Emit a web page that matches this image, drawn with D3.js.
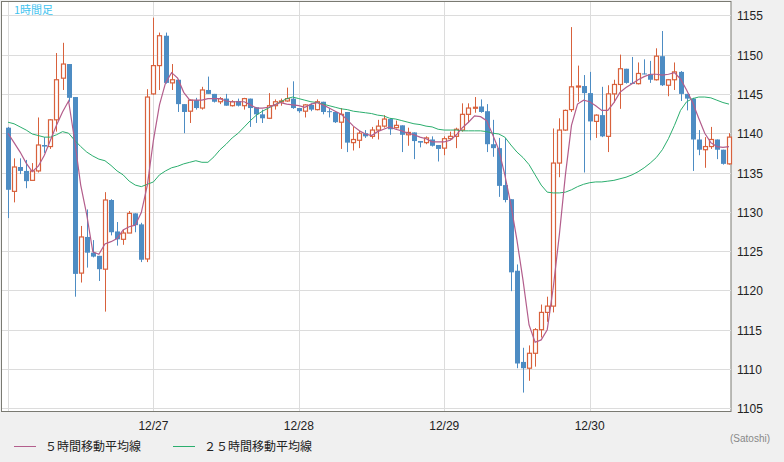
<!DOCTYPE html>
<html>
<head>
<meta charset="utf-8">
<script src="https://cdn.jsdelivr.net/npm/d3@7"></script>
<style>
  body { margin: 0; background: #f0f0f0; }
  svg { display: block; font-family: "Liberation Sans", "DejaVu Sans", sans-serif; }
</style>
</head>
<body>
<svg id="chart" width="784" height="462"></svg>
<script>
// hourly candles, 12/26 00:00 .. 12/30 23:00
var opens = [1140.7,1132.6,1135.7,1135.2,1134.0,1135.2,1138.5,1138.3,1141.7,1147.0,1148.8,1144.6,1122.2,1126.8,1124.8,1124.4,1122.7,1131.5,1127.5,1126.5,1127.3,1129.8,1128.4,1124.0,
  1145.0,1148.6,1152.4,1146.4,1146.8,1143.7,1142.8,1144.2,1143.2,1145.5,1145.0,1144.0,1144.4,1143.5,1144.1,1143.5,1144.4,1143.3,1142.4,1141.9,1143.5,1144.0,1144.1,1144.4,
  1143.2,1142.8,1143.6,1143.0,1144.0,1142.8,1142.7,1141.4,1142.7,1138.8,1139.1,1140.0,1139.6,1140.4,1140.9,1141.8,1140.7,1141.0,1139.8,1140.1,1139.0,1138.8,1139.2,1138.5,
  1138.1,1139.3,1139.6,1140.4,1142.4,1143.2,1143.4,1142.8,1138.6,1138.1,1133.4,1131.6,1122.5,1110.9,1110.1,1112.0,1115.0,1117.2,1118.0,1136.2,1140.4,1143.0,1145.9,
  1146.0,1145.1,1141.5,1142.3,1139.6,1145.0,1146.2,1148.2,1146.4,1146.3,1147.6,1147.5,1146.8,1149.8,1146.1,1146.8,1147.8,1145.0,1144.4,1139.2,1137.9,1138.3,1139.2,1137.9,1136.1];
var closes = [1132.8,1135.7,1135.2,1133.9,1135.2,1138.5,1138.3,1141.7,1146.8,1148.8,1144.5,1122.1,1126.8,1124.8,1124.3,1122.7,1131.5,1127.4,1126.5,1127.3,1129.8,1128.3,1123.9,1144.6,
  1148.6,1152.4,1146.4,1146.8,1143.7,1142.7,1144.2,1143.2,1145.5,1145.0,1144.0,1144.4,1143.5,1144.0,1143.5,1144.4,1143.2,1142.4,1141.9,1143.5,1144.0,1144.1,1144.4,1143.2,
  1142.8,1143.6,1143.0,1144.0,1142.7,1142.7,1141.4,1142.4,1138.8,1139.2,1140.0,1139.6,1140.4,1140.9,1141.8,1140.5,1141.0,1139.8,1140.1,1139.0,1138.8,1139.4,1138.4,1138.0,
  1139.3,1139.6,1140.5,1142.4,1143.2,1143.3,1142.7,1138.6,1138.1,1133.3,1131.5,1122.3,1110.7,1110.1,1112.0,1115.0,1117.2,1118.0,1136.2,1140.4,1142.9,1145.9,1146.0,
  1145.1,1141.5,1142.3,1139.6,1145.0,1146.2,1148.2,1146.4,1146.3,1147.6,1147.5,1146.8,1149.8,1146.1,1146.8,1147.8,1145.0,1144.4,1139.2,1137.9,1138.3,1139.2,1137.9,1136.1,1139.5];
var highs = [1140.8,1136.8,1136.8,1136.6,1136.2,1142.0,1139.5,1141.8,1150.2,1151.5,1148.8,1144.6,1128.2,1130.3,1126.4,1124.4,1132.5,1131.6,1128.7,1127.7,1130.1,1129.8,1128.6,1145.6,
  1154.7,1152.8,1152.8,1148.8,1146.8,1143.7,1144.3,1144.5,1145.9,1147.2,1145.0,1144.6,1145.0,1144.2,1144.4,1144.5,1144.4,1143.3,1143.0,1145.1,1144.3,1144.4,1145.8,1146.6,
  1143.2,1143.7,1143.8,1144.3,1144.0,1143.2,1142.7,1143.2,1142.7,1140.8,1140.3,1140.4,1140.8,1141.7,1142.3,1141.9,1141.6,1141.0,1140.7,1140.1,1139.0,1139.6,1139.6,1138.5,
  1139.6,1140.2,1140.7,1143.8,1143.8,1144.6,1144.3,1143.7,1141.7,1139.4,1139.4,1131.6,1123.3,1112.7,1113.0,1115.2,1118.2,1119.2,1140.6,1141.9,1143.0,1153.5,1148.6,
  1147.4,1147.8,1142.4,1145.9,1146.1,1146.8,1150.0,1148.2,1149.7,1149.0,1149.4,1149.2,1150.8,1153.0,1146.9,1149.0,1147.9,1145.0,1144.5,1140.4,1139.5,1140.8,1139.2,1137.9,1140.0];
var lows = [1129.2,1131.2,1134.8,1133.0,1134.0,1135.0,1137.5,1138.0,1140.2,1145.5,1144.0,1119.2,1121.0,1122.9,1124.2,1121.2,1117.3,1127.0,1125.7,1125.8,1127.3,1127.4,1123.6,1123.6,
  1144.9,1145.5,1146.3,1145.5,1142.7,1140.0,1141.3,1143.0,1143.0,1145.0,1143.9,1143.7,1143.5,1143.4,1143.4,1143.0,1140.8,1141.3,1141.3,1141.8,1143.0,1143.5,1144.0,1143.1,
  1142.6,1142.0,1142.8,1142.9,1142.4,1142.0,1141.3,1138.0,1137.6,1137.8,1138.1,1139.4,1139.3,1139.2,1140.7,1139.8,1140.6,1137.6,1138.4,1136.7,1138.2,1138.6,1138.3,1136.4,
  1137.2,1139.2,1138.1,1140.2,1141.3,1142.6,1142.6,1137.6,1137.0,1131.9,1131.2,1119.9,1110.1,1107.0,1108.5,1110.3,1114.0,1116.0,1117.2,1134.4,1140.3,1142.7,1144.0,
  1135.0,1139.1,1139.4,1139.5,1137.6,1143.9,1143.1,1146.3,1146.3,1146.2,1147.5,1146.4,1146.7,1146.0,1144.7,1145.5,1144.1,1142.9,1135.2,1137.2,1135.6,1138.0,1136.7,1136.0,1136.0];
var ma5 = [1140.0,1138.8,1137.6,1136.2,1135.1,1135.8,1137.2,1139.1,1141.0,1142.7,1144.1,1139.1,1133.4,1129.6,1124.9,1124.6,1125.9,1126.2,1126.6,1127.7,1128.1,1128.3,1129.9,1133.4,
  1139.1,1143.6,1146.4,1147.7,1147.0,1145.2,1144.2,1144.2,1144.2,1144.4,1144.4,1144.4,1144.1,1144.0,1144.0,1144.0,1143.6,1143.2,1143.2,1143.3,1143.6,1143.9,1143.7,1143.6,
  1143.5,1143.3,1143.7,1143.9,1143.6,1143.2,1142.8,1142.4,1141.7,1140.9,1140.3,1139.9,1139.7,1140.2,1140.5,1140.8,1140.5,1140.3,1140.0,1139.8,1139.5,1139.3,1138.9,1138.9,
  1138.9,1139.1,1139.8,1140.7,1141.4,1142.2,1142.1,1141.6,1139.8,1137.9,1134.7,1130.9,1126.4,1121.3,1115.6,1113.4,1113.7,1115.0,1120.4,1127.1,1134.7,1141.0,1143.7,
  1144.2,1144.0,1143.5,1142.9,1142.9,1143.9,1145.2,1145.8,1146.3,1146.8,1147.2,1147.5,1147.5,1147.4,1147.5,1147.7,1146.9,1145.5,1143.9,1141.9,1140.0,1138.8,1138.3,1138.2,1138.3];
var ma25 = [1141.4,1141.2,1140.8,1140.4,1139.9,1139.7,1139.5,1139.5,1139.8,1140.2,1140.0,1139.1,1138.3,1137.6,1137.1,1136.7,1136.5,1135.9,1135.2,1134.7,1133.9,1133.4,1133.2,1133.5,
  1133.8,1134.7,1135.2,1135.6,1135.8,1136.1,1136.3,1136.5,1136.3,1136.3,1137.0,1137.9,1138.6,1139.4,1140.0,1140.8,1141.6,1142.3,1142.8,1143.2,1143.6,1144.0,1144.4,1144.6,
  1144.4,1144.2,1144.0,1143.9,1143.7,1143.5,1143.3,1143.1,1143.0,1142.8,1142.7,1142.6,1142.5,1142.3,1142.2,1141.9,1141.8,1141.6,1141.4,1141.2,1141.1,1140.9,1140.8,1140.5,
  1140.4,1140.4,1140.4,1140.3,1140.3,1140.3,1140.3,1140.2,1140.0,1139.9,1139.5,1138.5,1137.6,1136.9,1136.0,1134.7,1133.4,1132.5,1132.4,1132.4,1132.5,1132.8,1133.2,
  1133.5,1133.7,1133.8,1133.8,1133.9,1134.0,1134.2,1134.4,1134.7,1135.1,1135.6,1136.2,1136.9,1137.9,1139.3,1141.0,1142.9,1144.0,1144.4,1144.6,1144.6,1144.5,1144.2,1143.9,1143.7];
var dateLabels = ['12/27','12/28','12/29','12/30'];
var dateIdx = [24, 48, 72, 96];
var yTicks = [1105,1110,1115,1120,1125,1130,1135,1140,1145,1150,1155];

var svg = d3.select('#chart');
var up = '#d8613c', down = '#4d8cc3';

var x = d3.scaleLinear().domain([0, opens.length - 1]).range([8, 729]);
var y = d3.scaleLinear().domain([1105, 1155]).range([408.3, 15.3]);

// plot area
svg.append('rect')
  .attr('x', 1.5).attr('y', 1.5).attr('width', 729.5).attr('height', 410)
  .style('fill', '#fff').style('stroke', '#7a7a72').style('stroke-width', 1);

// grid
svg.append('g').selectAll('line').data(yTicks).enter().append('line')
  .attr('x1', 2).attr('x2', 731)
  .attr('y1', function(d){ return Math.round(y(d)) + 0.5; })
  .attr('y2', function(d){ return Math.round(y(d)) + 0.5; })
  .style('stroke', '#dcdcdc');
svg.append('g').selectAll('line').data([0].concat(dateIdx)).enter().append('line')
  .attr('x1', function(d){ return Math.round(x(d)) + 0.5; })
  .attr('x2', function(d){ return Math.round(x(d)) + 0.5; })
  .attr('y1', 2).attr('y2', 411)
  .style('stroke', '#dcdcdc');

// candles
var candles = svg.append('g').selectAll('g').data(opens).enter().append('g');
candles.append('line')
  .attr('x1', function(d, i){ return Math.round(x(i)) + 0.5; })
  .attr('x2', function(d, i){ return Math.round(x(i)) + 0.5; })
  .attr('y1', function(d, i){ return y(highs[i]); })
  .attr('y2', function(d, i){ return y(lows[i]); })
  .style('stroke', function(d, i){ return closes[i] >= d ? up : down; });
candles.append('rect')
  .attr('x', function(d, i){ return Math.round(x(i)) - 2 + (closes[i] >= d ? 0.5 : 0); })
  .attr('width', function(d, i){ return closes[i] >= d ? 4 : 5; })
  .attr('y', function(d, i){ return y(Math.max(d, closes[i])); })
  .attr('height', function(d, i){ return Math.max(1, Math.abs(y(d) - y(closes[i]))); })
  .style('fill', function(d, i){ return closes[i] >= d ? '#fff' : down; })
  .style('stroke', function(d, i){ return closes[i] >= d ? up : 'none'; })
  .style('stroke-width', 1.2);

// moving averages
var line = d3.line().x(function(d, i){ return x(i); }).y(function(d){ return y(d); });
svg.append('path').datum(ma25).attr('d', line)
  .style('fill', 'none').style('stroke', '#2bae6e').style('stroke-width', 1);
svg.append('path').datum(ma5).attr('d', line)
  .style('fill', 'none').style('stroke', '#b35e8c').style('stroke-width', 1.2);

// title
svg.append('text').attr('x', 14).attr('y', 14)
  .style('font-family', '"Noto Sans CJK JP", sans-serif').style('font-size', '11px')
  .style('fill', '#3fc3ef').text('1時間足');

// y axis labels
svg.append('g').selectAll('text').data(yTicks).enter().append('text')
  .attr('x', 737).attr('y', function(d){ return y(d) + 5; })
  .style('font-size', '12px').style('fill', '#222').text(function(d){ return d; });

// date labels
svg.append('g').selectAll('text').data(dateIdx).enter().append('text')
  .attr('x', function(d){ return x(d); }).attr('y', 430)
  .attr('text-anchor', 'middle')
  .style('font-size', '12px').style('fill', '#222')
  .text(function(d, i){ return dateLabels[i]; });

svg.append('text').attr('x', 770).attr('y', 442).attr('text-anchor', 'end')
  .style('font-size', '10px').style('fill', '#888').text('(Satoshi)');

// legend
var legend = [{label: '５時間移動平均線', color: '#b35e8c', x: 14}, {label: '２５時間移動平均線', color: '#2bae6e', x: 173}];
var lg = svg.append('g').selectAll('g').data(legend).enter().append('g');
lg.append('line')
  .attr('x1', function(d){ return d.x; }).attr('x2', function(d){ return d.x + 22; })
  .attr('y1', 446.5).attr('y2', 446.5)
  .style('stroke', function(d){ return d.color; });
lg.append('text')
  .attr('x', function(d){ return d.x + 31; }).attr('y', 451)
  .style('font-family', '"Noto Sans CJK JP", sans-serif').style('font-size', '12px').style('fill', '#222')
  .text(function(d){ return d.label; });
</script>
</body>
</html>
